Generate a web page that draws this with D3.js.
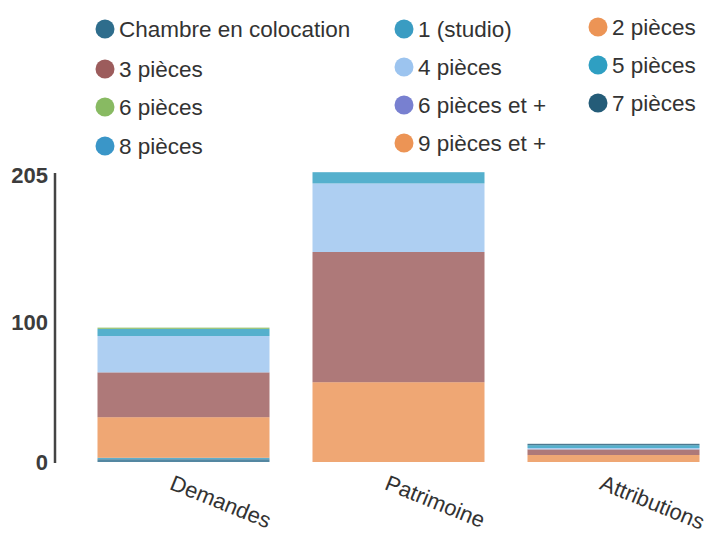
<!DOCTYPE html>
<html><head><meta charset="utf-8">
<script src="https://cdn.jsdelivr.net/npm/d3@7/dist/d3.min.js"></script>
<style>body{margin:0;background:#fff}svg{display:block}</style>
</head><body>
<svg id="chart" width="709" height="535"></svg>
<script>
const categories = ["Demandes", "Patrimoine", "Attributions"];
const seriesNames = ["Chambre en colocation", "1 (studio)", "2 pièces", "3 pièces", "4 pièces", "5 pièces", "6 pièces", "6 pièces et +", "7 pièces", "8 pièces", "9 pièces et +"];
const seriesColors = ["#2e6d8c", "#3a9cc2", "#ec9455", "#9c5c5c", "#9cc4ef", "#2f9fc2", "#88ba62", "#7880d0", "#245c78", "#3a96c8", "#ec9455"];
const chambre   = [2, 0, 0];
const studio    = [1, 0, 0];
const p2        = [29, 57, 5];
const p3        = [32, 93, 4];
const p4        = [26, 49, 1];
const p5        = [5, 8, 2];
const p6        = [1, 0, 0];
const p6plus    = [0, 0, 0];
const p7        = [0, 0, 1];
const p8        = [0, 0, 0];
const p9plus    = [0, 0, 0];
const yTicks = [0, 100, 205];
const yMax = 205;

const seriesValues = [chambre, studio, p2, p3, p4, p5, p6, p6plus, p7, p8, p9plus];
const table = categories.map((c, ci) => {
  const row = {cat: c};
  seriesNames.forEach((s, si) => row[s] = seriesValues[si][ci]);
  return row;
});
const stacked = d3.stack().keys(seriesNames)(table);

const svg = d3.select("#chart");
const font = "'Liberation Sans', Arial, sans-serif";
const x = d3.scaleBand().domain(categories).range([76, 721]).paddingInner(0.2).paddingOuter(0.1);
const y = d3.scaleLinear().domain([0, yMax]).range([462, 175]);
const color = d3.scaleOrdinal().domain(seriesNames).range(seriesColors);

// bars
svg.append("g").selectAll("g").data(stacked).join("g")
  .attr("fill", d => color(d.key)).attr("fill-opacity", 0.82)
  .selectAll("rect").data(d => d).join("rect")
  .attr("x", d => x(d.data.cat))
  .attr("width", x.bandwidth())
  .attr("y", d => y(d[1]))
  .attr("height", d => y(d[0]) - y(d[1]));

// y axis
const yAxis = svg.append("g").attr("transform", "translate(55,0)")
  .call(d3.axisLeft(y).tickValues(yTicks).tickSize(0).tickPadding(7).tickFormat(d3.format("d")));
yAxis.select(".domain").attr("stroke", "#444").attr("stroke-width", 2.5).attr("d", `M0,${y(yMax)-2}V${y(0)+1}`);
yAxis.selectAll("text").attr("font-family", font).attr("font-size", 22).attr("font-weight", "bold").attr("fill", "#3c3c3c");

// x labels
svg.append("g").selectAll("text").data(categories).join("text")
  .attr("transform", d => `translate(${x(d) + x.bandwidth()/2 - 9},474) rotate(22)`)
  .attr("dy", "0.72em")
  .attr("font-family", font).attr("font-size", 22).attr("fill", "#333")
  .text(d => d);

// legend
const colX = [105, 404, 598];
const rowY = [[29, 69, 107, 146], [29, 67, 105, 143], [27, 65, 103, 141]];
const leg = svg.append("g").selectAll("g").data(seriesNames).join("g")
  .attr("transform", (d, i) => `translate(${colX[i % 3]},${rowY[i % 3][Math.floor(i / 3)]})`);
leg.append("circle").attr("r", 9.5).attr("fill", d => color(d));
leg.append("text").attr("x", 14).attr("dy", "0.36em")
  .attr("font-family", font).attr("font-size", 22.5).attr("fill", "#333")
  .text(d => d);
</script>
</body></html>
